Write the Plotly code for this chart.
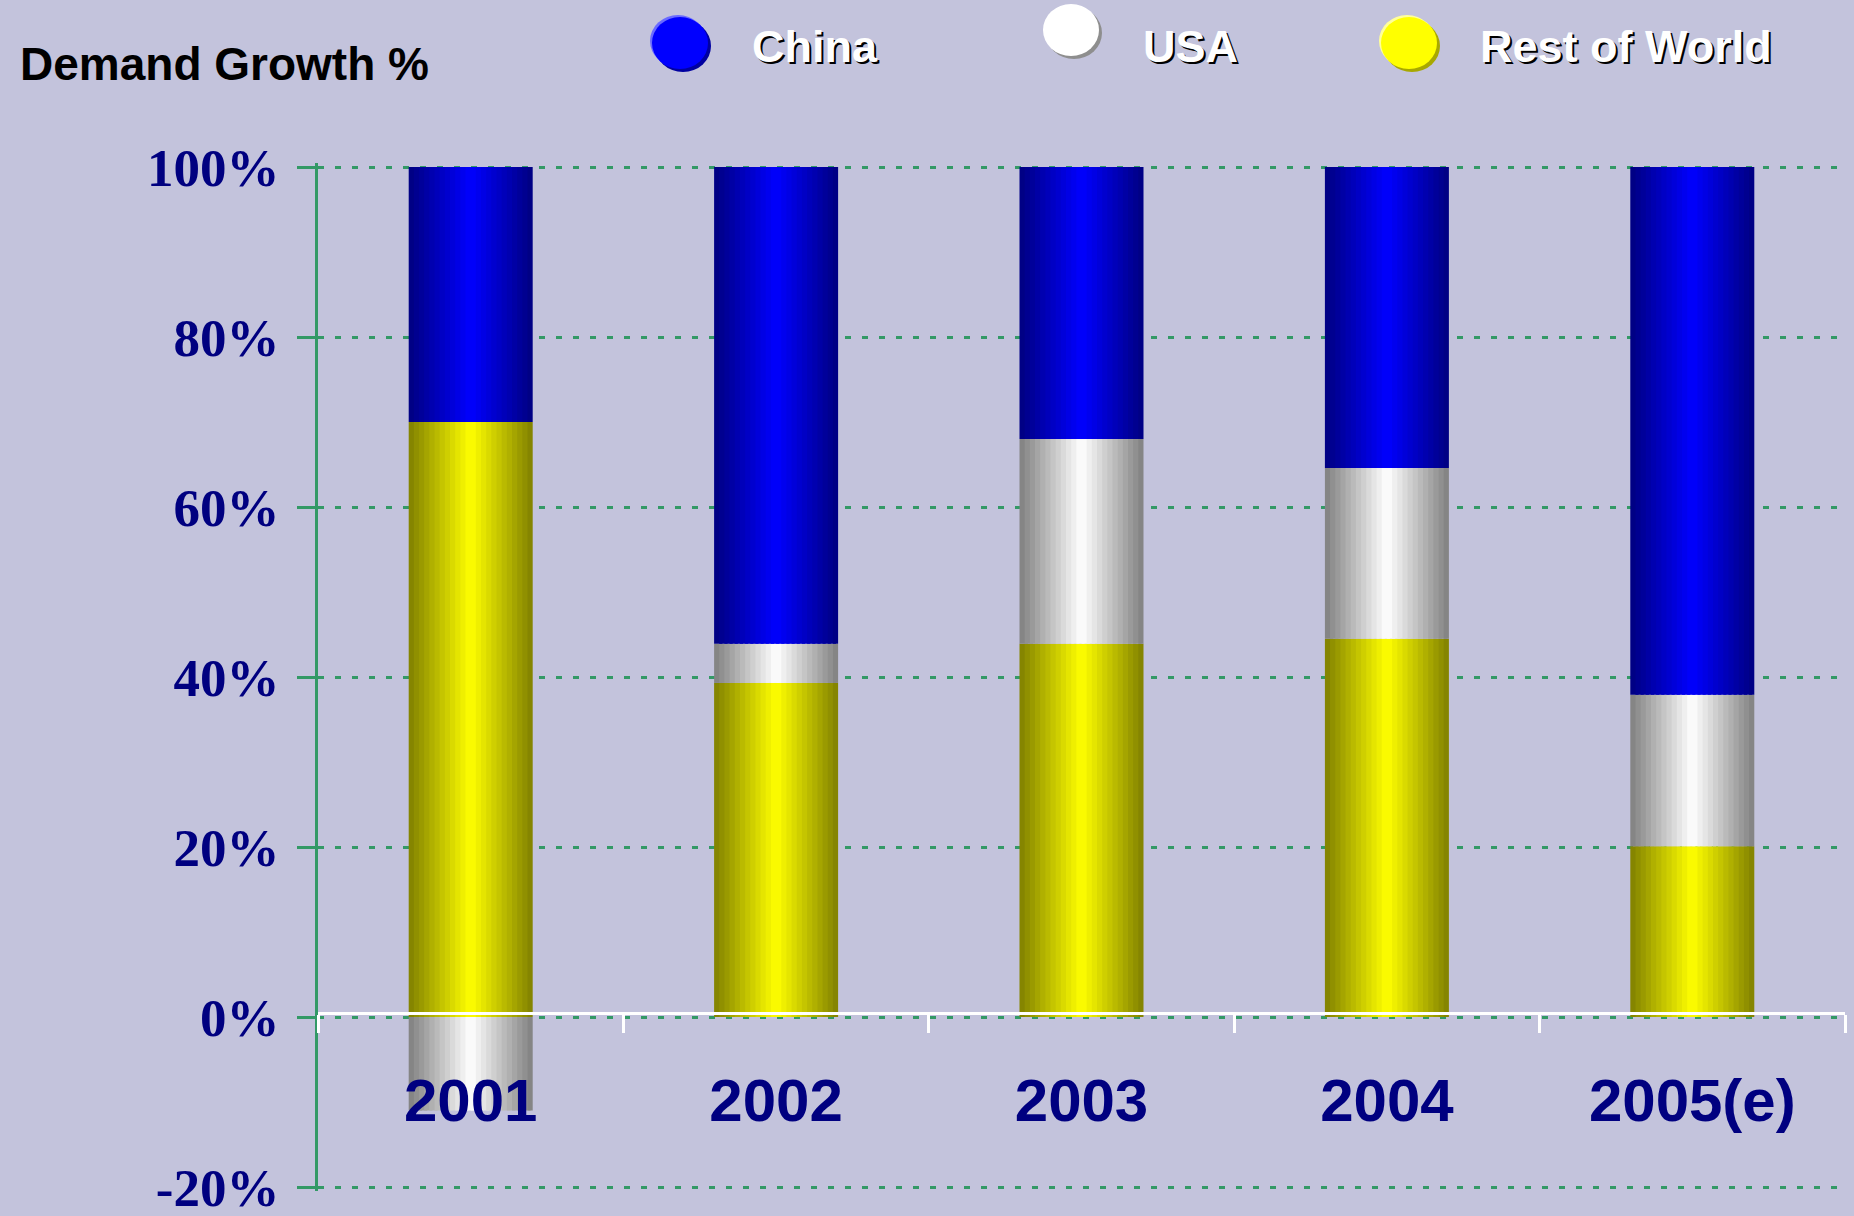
import numpy as np
import plotly.graph_objects as go

# ---- data -------------------------------------------------------------
years = ["2001", "2002", "2003", "2004", "2005(e)"]
china = [30.0, 56.1, 32.0, 35.4, 62.1]
usa = [-11.0, 4.6, 24.1, 20.1, 17.8]
rest_of_world = [70.0, 39.3, 43.9, 44.5, 20.1]
y_ticks = [-20, 0, 20, 40, 60, 80, 100]
series_names = ["China", "USA", "Rest of World"]

# ---- styling ----------------------------------------------------------
W, H = 1854, 1216
M_L, M_R, M_T, M_B = 318, 9, 163, 25
PAD = 0.47             # small range padding so the end gridlines are drawn
BG = "#C3C3DC"
GREEN = "#339966"
NAVY = "#000080"
BAR_W = 0.406          # bar width as a fraction of the category slot
N_SLICES = 24          # vertical bands used to shade each cylinder

# dark edge colour -> bright centre colour for each series
shades = {
    "China": ((0, 0, 128), (0, 0, 255)),
    "USA": ((128, 128, 128), (255, 255, 255)),
    "Rest of World": ((128, 128, 0), (255, 255, 0)),
}

# stacking: Rest of World at the bottom, USA next, China on top;
# a negative value hangs below zero
row = np.array(rest_of_world)
us = np.array(usa)
cn = np.array(china)
base_row = np.zeros_like(row)
base_us = np.where(us >= 0, row, 0.0)
base_cn = row + np.clip(us, 0, None)

stack = [
    ("Rest of World", row, base_row),
    ("USA", us, base_us),
    ("China", cn, base_cn),
]

fig = go.Figure()

slice_w = BAR_W / N_SLICES
for name, vals, bases in stack:
    dark, bright = shades[name]
    for j in range(N_SLICES):
        t = (j + 0.5) / N_SLICES
        s = 1 - abs(2 * t - 1)
        rgb = tuple(int(round(d + (b - d) * s)) for d, b in zip(dark, bright))
        # overlap each band slightly with the next one to avoid seams
        w = slice_w * (1.6 if j < N_SLICES - 1 else 1.0)
        fig.add_trace(go.Bar(
            x=years, y=vals, base=bases,
            offset=-BAR_W / 2 + j * slice_w, width=w,
            marker=dict(color="rgb(%d,%d,%d)" % rgb, line=dict(width=0)),
            name=name, showlegend=False, hoverinfo="skip",
        ))

# ---- pixel helpers for paper-positioned decorations --------------------
plot_w = W - M_L - M_R
plot_h = H - M_T - M_B
y_lo, y_hi = y_ticks[0] - PAD, y_ticks[-1] + PAD


def px_x(px):
    return (px - M_L) / plot_w


def px_y(py):
    return (H - M_B - py) / plot_h


# ---- legend: shaded ellipses with shadowed white labels ---------------
legend_items = [
    # name, centre x, centre y, fill, rim highlight, shadow, text x
    ("China", 680, 43, "#0000FF", "#6A6AFF", "#0000A0", 750),
    ("USA", 1071, 30, "#FFFFFF", None, "#8E8E8E", 1141),
    ("Rest of World", 1409, 43, "#FFFF00", "#FFFF9A", "#A8A800", 1478),
]
shapes = []
annotations = []
RX, RY = 28, 26
for name, cx, cy, fill, hi, sh, tx in legend_items:
    layers = [(sh, 3, 3)]
    if hi:
        layers.append((hi, -2, -2))
    layers.append((fill, 0, 0))
    for col, dx, dy in layers:
        shapes.append(dict(
            type="circle", xref="paper", yref="paper", layer="above",
            x0=px_x(cx + dx - RX), x1=px_x(cx + dx + RX),
            y0=px_y(cy + dy + RY), y1=px_y(cy + dy - RY),
            fillcolor=col, line=dict(width=0),
        ))
    annotations.append(dict(
        text=name, xref="paper", yref="paper",
        x=px_x(tx), y=px_y(47), xanchor="left", yanchor="middle",
        showarrow=False,
        font=dict(family="Liberation Sans", size=45, color="white",
                  weight="bold", shadow="2px 2px 0px #000000"),
    ))

fig.update_layout(
    width=W, height=H,
    margin=dict(l=M_L, r=M_R, t=M_T, b=M_B, pad=0, autoexpand=False),
    paper_bgcolor=BG, plot_bgcolor=BG,
    barmode="overlay",
    showlegend=False,
    title=dict(
        text="Demand Growth %", xref="container", yref="container",
        x=20 / W, xanchor="left", y=1 - 64 / H, yanchor="middle",
        automargin=False,
        font=dict(family="Liberation Sans", size=46, color="black", weight="bold"),
    ),
    xaxis=dict(
        type="category", categoryorder="array", categoryarray=years,
        range=[-0.5, len(years) - 0.5],
        anchor="free", position=(0 - y_lo) / (y_hi - y_lo) + 4 / plot_h,
        automargin=False,
        showline=True, linecolor="white", linewidth=3,
        ticks="outside", tickson="boundaries", ticklen=18, tickwidth=3,
        tickcolor="white", showgrid=False, zeroline=False,
        tickfont=dict(family="Liberation Sans", size=60, color=NAVY, weight="bold"),
        ticklabelstandoff=34,
    ),
    yaxis=dict(
        range=[y_lo, y_hi],
        automargin=False,
        tickmode="array", tickvals=y_ticks,
        ticktext=["%d%%" % v for v in y_ticks],
        showline=True, linecolor=GREEN, linewidth=3,
        ticks="outside", ticklen=18, tickwidth=3, tickcolor=GREEN,
        showgrid=True, gridcolor=GREEN, gridwidth=3, griddash="6px,11px",
        zeroline=False,
        tickfont=dict(family="Liberation Serif", size=53, color=NAVY, weight="bold"),
        ticklabelstandoff=7,
        ticklabeloverflow="allow",
    ),
    shapes=shapes,
    annotations=annotations,
)

fig.write_html("out.html")
